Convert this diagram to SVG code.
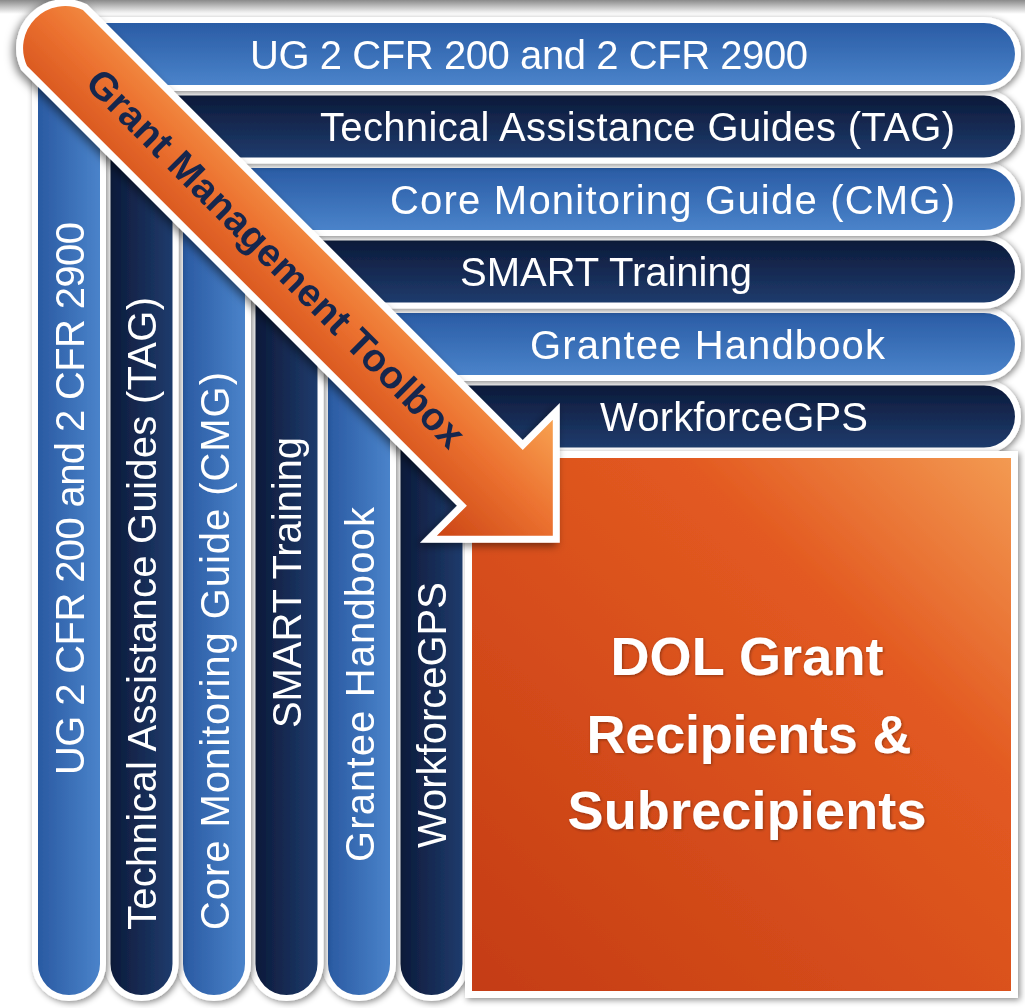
<svg xmlns="http://www.w3.org/2000/svg" width="1025" height="1008" viewBox="0 0 1025 1008">
  <defs>
    <linearGradient id="topShade" x1="0" y1="0" x2="0" y2="1">
      <stop offset="0" stop-color="#8a8a8a"/>
      <stop offset="1" stop-color="#ffffff"/>
    </linearGradient>
    <linearGradient id="hLight" x1="0" y1="0" x2="0" y2="1">
      <stop offset="0" stop-color="#2a5ca5"/>
      <stop offset="1" stop-color="#4a83ca"/>
    </linearGradient>
    <linearGradient id="hDark" x1="0" y1="0" x2="0" y2="1">
      <stop offset="0" stop-color="#0c1a3a"/>
      <stop offset="1" stop-color="#1f3b6c"/>
    </linearGradient>
    <linearGradient id="vLight" x1="0" y1="0" x2="1" y2="0">
      <stop offset="0" stop-color="#2a5aa2"/>
      <stop offset="1" stop-color="#4a83ca"/>
    </linearGradient>
    <linearGradient id="vDark" x1="0" y1="0" x2="1" y2="0">
      <stop offset="0" stop-color="#0c1a3a"/>
      <stop offset="1" stop-color="#1f3b6c"/>
    </linearGradient>
    <linearGradient id="sqGrad" x1="1" y1="0" x2="0" y2="1">
      <stop offset="0" stop-color="#f39a52"/>
      <stop offset="0.3" stop-color="#e35a21"/>
      <stop offset="1" stop-color="#c43c13"/>
    </linearGradient>
    <linearGradient id="arrowGrad" gradientUnits="userSpaceOnUse" x1="0" y1="-80" x2="0" y2="80">
      <stop offset="0" stop-color="#f7a050"/>
      <stop offset="0.45" stop-color="#ec7230"/>
      <stop offset="1" stop-color="#cc4616"/>
    </linearGradient>
    <filter id="sh" x="-10%" y="-10%" width="120%" height="120%">
      <feDropShadow dx="2" dy="2" stdDeviation="3" flood-color="#000" flood-opacity="0.45"/>
    </filter>
    <filter id="ash" x="-20%" y="-20%" width="140%" height="140%">
      <feDropShadow dx="-3" dy="3" stdDeviation="4" flood-color="#000" flood-opacity="0.5"/>
    </filter>
    <filter id="tsh" x="-10%" y="-10%" width="120%" height="140%">
      <feDropShadow dx="1" dy="1" stdDeviation="1.5" flood-color="#000" flood-opacity="0.35"/>
    </filter>
  </defs>
  <style>
    .outline { fill: #ffffff; stroke: #ffffff; stroke-width: 12; stroke-linejoin: round; }
    .lbl { fill: #ffffff; font-family: "Liberation Sans", Arial, sans-serif; font-size: 40px; }
    .big { fill: #ffffff; font-family: "Liberation Sans", Arial, sans-serif; font-size: 54px; font-weight: bold; text-anchor: middle; }
    .arrowTxt { fill: #14284e; font-family: "Liberation Sans", Arial, sans-serif; font-size: 39px; font-weight: bold; text-anchor: middle; }
  </style>

  <rect x="0" y="0" width="1025" height="1008" fill="#ffffff"/>
  <rect x="0" y="0" width="1025" height="14" fill="url(#topShade)"/>

  <g id="node-workforcegps" filter="url(#sh)">
    <path class="outline" d="M400.5,964 V416.5 A31,31 0 0 1 431.5,385.5 H984 A31,31 0 0 1 984,447.5 H462.5 V964 A31,31 0 0 1 400.5,964 Z"/>
    <path fill="url(#hDark)" d="M400.5,447.5 V416.5 A31,31 0 0 1 431.5,385.5 H984 A31,31 0 0 1 984,447.5 Z"/>
    <path fill="url(#vDark)" d="M400.5,447.5 H462.5 V964 A31,31 0 0 1 400.5,964 Z"/>
    <text class="lbl" x="600" y="431" textLength="268">WorkforceGPS</text>
    <text class="lbl" transform="translate(446,848) rotate(-90)" textLength="266">WorkforceGPS</text>
  </g>

  <g id="node-grantee-handbook" filter="url(#sh)">
    <path class="outline" d="M328,964 V344 A31,31 0 0 1 359,313 H984 A31,31 0 0 1 984,375 H390 V964 A31,31 0 0 1 328,964 Z"/>
    <path fill="url(#hLight)" d="M328,375 V344 A31,31 0 0 1 359,313 H984 A31,31 0 0 1 984,375 Z"/>
    <path fill="url(#vLight)" d="M328,375 H390 V964 A31,31 0 0 1 328,964 Z"/>
    <text class="lbl" x="530" y="358.5" textLength="355">Grantee Handbook</text>
    <text class="lbl" transform="translate(373.5,862) rotate(-90)" textLength="355">Grantee Handbook</text>
  </g>

  <g id="node-smart-training" filter="url(#sh)">
    <path class="outline" d="M255.5,964 V271.5 A31,31 0 0 1 286.5,240.5 H984 A31,31 0 0 1 984,302.5 H317.5 V964 A31,31 0 0 1 255.5,964 Z"/>
    <path fill="url(#hDark)" d="M255.5,302.5 V271.5 A31,31 0 0 1 286.5,240.5 H984 A31,31 0 0 1 984,302.5 Z"/>
    <path fill="url(#vDark)" d="M255.5,302.5 H317.5 V964 A31,31 0 0 1 255.5,964 Z"/>
    <text class="lbl" x="460" y="286" textLength="292">SMART Training</text>
    <text class="lbl" transform="translate(301,728) rotate(-90)" textLength="291">SMART Training</text>
  </g>

  <g id="node-cmg" filter="url(#sh)">
    <path class="outline" d="M183,964 V199 A31,31 0 0 1 214,168 H984 A31,31 0 0 1 984,230 H245 V964 A31,31 0 0 1 183,964 Z"/>
    <path fill="url(#hLight)" d="M183,230 V199 A31,31 0 0 1 214,168 H984 A31,31 0 0 1 984,230 Z"/>
    <path fill="url(#vLight)" d="M183,230 H245 V964 A31,31 0 0 1 183,964 Z"/>
    <text class="lbl" x="390" y="213.5" textLength="565">Core Monitoring Guide (CMG)</text>
    <text class="lbl" transform="translate(228.5,930) rotate(-90)" textLength="558">Core Monitoring Guide (CMG)</text>
  </g>

  <g id="node-tag" filter="url(#sh)">
    <path class="outline" d="M110.5,964 V126.5 A31,31 0 0 1 141.5,95.5 H984 A31,31 0 0 1 984,157.5 H172.5 V964 A31,31 0 0 1 110.5,964 Z"/>
    <path fill="url(#hDark)" d="M110.5,157.5 V126.5 A31,31 0 0 1 141.5,95.5 H984 A31,31 0 0 1 984,157.5 Z"/>
    <path fill="url(#vDark)" d="M110.5,157.5 H172.5 V964 A31,31 0 0 1 110.5,964 Z"/>
    <text class="lbl" x="320" y="141" textLength="635">Technical Assistance Guides (TAG)</text>
    <text class="lbl" transform="translate(156,930) rotate(-90)" textLength="633">Technical Assistance Guides (TAG)</text>
  </g>

  <g id="node-ug-cfr" filter="url(#sh)">
    <path class="outline" d="M38,964 V54 A31,31 0 0 1 69,23 H984 A31,31 0 0 1 984,85 H100 V964 A31,31 0 0 1 38,964 Z"/>
    <path fill="url(#hLight)" d="M38,85 V54 A31,31 0 0 1 69,23 H984 A31,31 0 0 1 984,85 Z"/>
    <path fill="url(#vLight)" d="M38,85 H100 V964 A31,31 0 0 1 38,964 Z"/>
    <text class="lbl" x="250" y="68.5" textLength="558">UG 2 CFR 200 and 2 CFR 2900</text>
    <text class="lbl" transform="translate(84,775) rotate(-90)" textLength="553">UG 2 CFR 200 and 2 CFR 2900</text>
  </g>

  <g id="node-dol-recipients" filter="url(#sh)">
    <rect x="472" y="458" width="539" height="533" fill="url(#sqGrad)" stroke="#ffffff" stroke-width="14" paint-order="stroke"/>
    <g filter="url(#tsh)">
      <text class="big" x="747" y="675" textLength="273">DOL Grant</text>
      <text class="big" x="749" y="753" textLength="325">Recipients &amp;</text>
      <text class="big" x="747" y="829" textLength="359">Subrecipients</text>
    </g>
  </g>

  <g id="connectors" filter="url(#ash)">
    <g id="toolbox-arrow" transform="translate(55,38) rotate(45)">
      <path d="M0,-39.5 L622,-39.5 L622,-82 L704,0 L622,82 L622,39.5 L0,39.5 A42,42 0 0 1 0,-39.5 Z" fill="url(#arrowGrad)" stroke="#ffffff" stroke-width="14" stroke-linejoin="miter" paint-order="stroke"/>
      <text class="arrowTxt" x="312" y="13" textLength="517">Grant Management Toolbox</text>
    </g>
  </g>
</svg>
